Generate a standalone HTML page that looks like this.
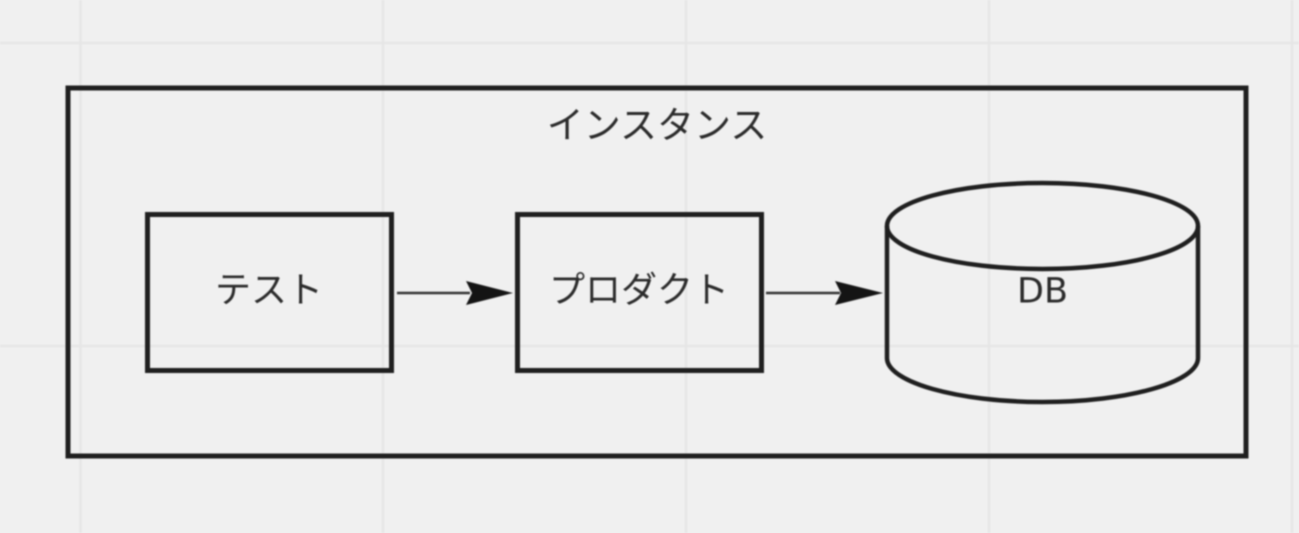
<!DOCTYPE html>
<html lang="ja">
<head>
<meta charset="utf-8">
<style>
html,body{margin:0;padding:0;width:1299px;height:533px;overflow:hidden;background:#f0f0f0}
svg{display:block;filter:blur(.8px)}
text{font-family:"Liberation Sans","Noto Sans CJK JP",sans-serif;fill:#2b2b2b;text-anchor:middle}
</style>
</head>
<body>
<svg width="1299" height="533" viewBox="0 0 1299 533" xmlns="http://www.w3.org/2000/svg">
<rect width="1299" height="533" fill="#f0f0f0"/>
<g stroke="#e6e6e6" stroke-width="2.500" fill="none">
<path d="M80.500 0V533M383 0V533M686 0V533M989 0V533M1292 0V533M0 43H1299M0 346H1299"/>
</g>
<g fill="none" stroke="#1f1f1f" stroke-width="5">
<rect x="68" y="88" width="1178" height="368"/>
<rect x="147.500" y="214.500" width="244" height="156"/>
<rect x="517.500" y="214.500" width="244" height="156"/>
<path stroke-width="4.500" d="M887 226C887 202 957 183 1042.500 183C1128 183 1198 202 1198 226V358C1198 382 1128 402 1042.500 402C957 402 887 382 887 358Z"/>
<path stroke-width="4.500" d="M887 226C887 250 957 269 1042.500 269C1128 269 1198 250 1198 226"/>
</g>
<g stroke="#333" stroke-width="2.500" fill="none">
<path d="M397 293H470M766 293H840"/>
</g>
<g fill="#141414">
<path d="M466 281L513 293L466 305L472 293Z"/>
<path d="M835 281L883 293L835 305L841 293Z"/>
</g>
<text x="657" y="138" font-size="37">インスタンス</text>
<text x="269" y="302" font-size="36">テスト</text>
<text x="639" y="302" font-size="36">プロダクト</text>
<text x="1042.500" y="302.500" font-size="35" style="font-family:'DejaVu Sans',sans-serif">DB</text>
</svg>
</body>
</html>
